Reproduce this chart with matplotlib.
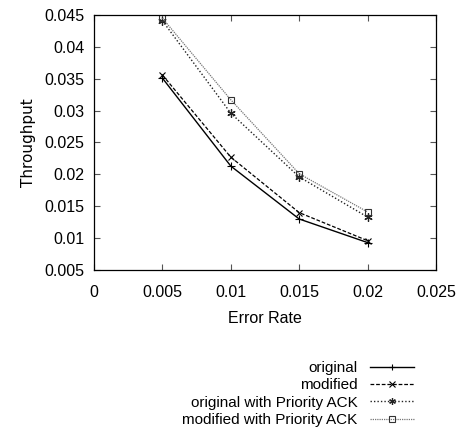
import matplotlib
matplotlib.use("Agg")
import matplotlib.pyplot as plt
from matplotlib import font_manager

names = {f.name for f in font_manager.fontManager.ttflist}
fam = "Liberation Sans Narrow" if "Liberation Sans Narrow" in names else "Liberation Sans"
plt.rcParams['font.family'] = [fam, 'DejaVu Sans']

error_rate = [0.005, 0.01, 0.015, 0.02]
original = [0.0351, 0.0213, 0.0130, 0.0093]
modified = [0.0356, 0.0227, 0.0140, 0.0096]
original_prio = [0.0441, 0.0296, 0.0196, 0.0133]
modified_prio = [0.0445, 0.0317, 0.0201, 0.0141]

x_ticks = [0, 0.005, 0.01, 0.015, 0.02, 0.025]
x_labels = ["0", "0.005", "0.01", "0.015", "0.02", "0.025"]
y_ticks = [0.005, 0.01, 0.015, 0.02, 0.025, 0.03, 0.035, 0.04, 0.045]
y_labels = ["0.005", "0.01", "0.015", "0.02", "0.025", "0.03", "0.035", "0.04", "0.045"]

fig = plt.figure(figsize=(4.64, 4.43), dpi=100)
ax = fig.add_axes([94/464, 1-270/443, (436-94)/464, (270-15)/443])

l1, = ax.plot(error_rate, original, color='black', lw=1.0, ls='-', marker='+', ms=6, mew=0.8, label='original')
l2, = ax.plot(error_rate, modified, color='black', lw=0.9, ls=(0, (3, 1.5)), marker='x', ms=5, mew=0.8, label='modified')
l3, = ax.plot(error_rate, original_prio, color='#222222', lw=1.0, ls=(0, (1, 1.5)), marker=(6, 2, 0), ms=6, mew=0.9, label='original with Priority ACK')
l4, = ax.plot(error_rate, modified_prio, color='#777777', lw=0.9, ls=(0, (1, 0.8)), marker='s', ms=5, mfc='none', mec='#333333', mew=0.8, label='modified with Priority ACK')

ax.set_xlim(0, 0.025)
ax.set_ylim(0.005, 0.045)
ax.set_xticks(x_ticks)
ax.set_xticklabels(x_labels)
ax.set_yticks(y_ticks)
ax.set_yticklabels(y_labels)
ax.tick_params(direction='in', length=4, width=0.8, top=True, right=True, labelsize=11.5, color='#555555')
ax.tick_params(axis='x', pad=11)
ax.tick_params(axis='y', pad=7)
for s in ax.spines.values():
    s.set_linewidth(0.9)

ax.set_xlabel('Error Rate', fontsize=11.5, labelpad=8)
ax.set_ylabel('Throughput', fontsize=11, labelpad=6, family='DejaVu Sans')

fig.legend(handles=[l1, l2, l3, l4], loc='upper right', bbox_to_anchor=(414/464, 1-361/443),
           frameon=False, markerfirst=False, fontsize=11, handlelength=2.9,
           handletextpad=0.8, labelspacing=0.22, borderpad=0, borderaxespad=0,
           markerscale=0.8)

fig.savefig('out.png', dpi=100)
